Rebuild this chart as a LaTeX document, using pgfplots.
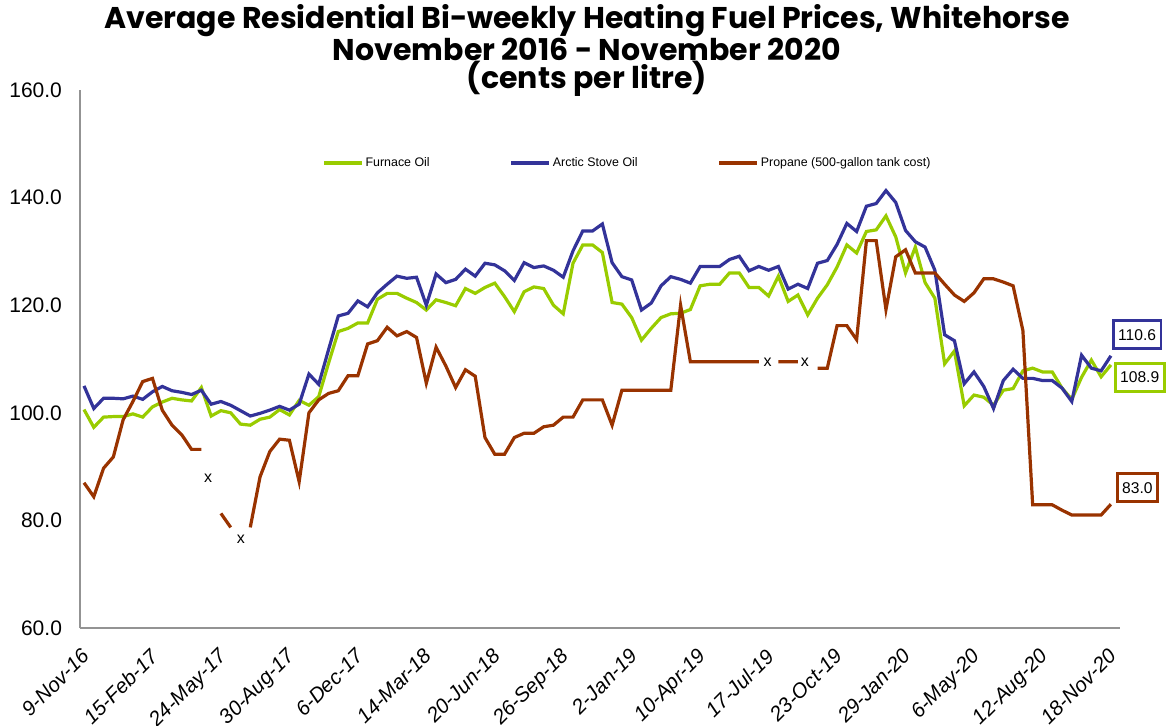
\documentclass[border=0pt]{standalone}
\usepackage{fontspec}
\setmainfont{Liberation Sans}
\newfontfamily\titlefont{Poppins}
\usepackage{pgfplots}
\pgfplotsset{compat=1.18}
\definecolor{furn}{HTML}{99CC00}
\definecolor{arctic}{HTML}{333399}
\definecolor{prop}{HTML}{993300}

\pgfplotstableread{
i furn arctic prop
0 100.6 105.0 87.0
1 97.3 100.8 84.4
2 99.2 102.7 89.7
3 99.3 102.7 91.8
4 99.3 102.6 98.7
5 99.8 103.1 102.1
6 99.2 102.5 105.8
7 101.1 103.9 106.4
8 102.0 104.9 100.5
9 102.7 104.1 97.7
10 102.4 103.8 95.9
11 102.2 103.4 93.2
12 104.7 104.2 93.2
13 99.4 101.6 nan
14 100.4 102.1 81.3
15 100.0 101.4 78.7
16 97.9 100.4 nan
17 97.7 99.4 78.7
18 98.8 99.9 88.1
19 99.2 100.5 92.8
20 100.6 101.2 95.1
21 99.6 100.5 94.9
22 102.3 101.6 87.2
23 101.4 107.2 100.0
24 103.0 105.3 102.4
25 109.2 111.7 103.6
26 115.1 118.0 104.1
27 115.7 118.5 106.9
28 116.7 120.8 106.9
29 116.7 119.7 112.8
30 121.1 122.3 113.4
31 122.2 123.9 115.9
32 122.2 125.4 114.3
33 121.3 125.0 115.1
34 120.5 125.2 114.0
35 119.1 120.0 105.5
36 121.0 125.8 112.2
37 120.5 124.2 108.7
38 119.9 124.8 104.7
39 123.1 126.7 108.0
40 122.2 125.4 106.8
41 123.3 127.8 95.4
42 124.1 127.5 92.3
43 121.6 126.4 92.3
44 118.8 124.6 95.4
45 122.5 127.9 96.2
46 123.4 127.0 96.2
47 123.1 127.3 97.4
48 120.0 126.5 97.7
49 118.4 125.2 99.2
50 127.8 130.1 99.2
51 131.2 133.8 102.4
52 131.2 133.8 102.4
53 129.8 135.1 102.4
54 120.5 127.9 97.7
55 120.2 125.3 104.2
56 117.7 124.7 104.2
57 113.5 119.1 104.2
58 115.7 120.4 104.2
59 117.7 123.6 104.2
60 118.4 125.3 104.2
61 118.5 124.8 120.0
62 119.2 124.1 109.5
63 123.6 127.2 109.5
64 123.9 127.2 109.5
65 123.9 127.2 109.5
66 126.0 128.5 109.5
67 126.0 129.1 109.5
68 123.3 126.4 109.5
69 123.3 127.2 109.5
70 121.7 126.5 nan
71 125.4 127.2 109.5
72 120.7 123.0 109.5
73 121.9 123.9 109.5
74 118.2 123.1 nan
75 121.3 127.8 108.3
76 123.8 128.3 108.3
77 127.1 131.3 116.2
78 131.2 135.2 116.2
79 129.7 133.7 113.6
80 133.7 138.4 132.0
81 134.0 138.9 132.0
82 136.6 141.3 119.2
83 132.7 139.1 129.0
84 126.0 133.9 130.3
85 130.8 131.8 126.0
86 124.2 130.8 126.0
87 121.3 126.5 126.0
88 109.1 114.5 123.9
89 111.5 113.4 121.9
90 101.3 105.4 120.7
91 103.3 107.6 122.3
92 102.9 104.9 124.9
93 101.4 100.8 124.9
94 104.2 106.0 124.3
95 104.5 108.1 123.6
96 107.8 106.4 115.3
97 108.3 106.4 82.9
98 107.6 106.0 82.9
99 107.6 106.0 82.9
100 104.6 104.6 81.9
101 102.5 102.1 81.0
102 106.6 110.7 81.0
103 109.8 108.3 81.0
104 106.7 107.8 81.0
105 108.9 110.6 83.0
}\datatable

\begin{document}
\begin{tikzpicture}
\begin{axis}[
  scale only axis, width=520pt, height=269pt,
  xmin=-0.41, xmax=105.93, ymin=60, ymax=160,
  axis x line*=bottom, axis y line*=left,
  axis line style={draw=gray!85, line width=0.7pt, -},
  xtick={0,7,...,105},
  xticklabels={9-Nov-16,15-Feb-17,24-May-17,30-Aug-17,6-Dec-17,14-Mar-18,20-Jun-18,26-Sep-18,2-Jan-19,10-Apr-19,17-Jul-19,23-Oct-19,29-Jan-20,6-May-20,12-Aug-20,18-Nov-20},
  ytick={60,80,...,160},
  major tick length=0pt,
  /pgf/number format/assume math mode=true,
  yticklabel style={/pgf/number format/fixed, /pgf/number format/fixed zerofill, /pgf/number format/precision=1, font=\fontsize{10.5}{12}\selectfont, xshift=-5.5pt},
  x tick label style={font=\itshape\fontsize{10.3}{12}\selectfont, inner sep=0pt, xshift=-1.8pt, yshift=-9.5pt, rotate=45, anchor=north east},
  clip=false,
  unbounded coords=jump,
  title={Average Residential Bi-weekly Heating Fuel Prices, Whitehorse\\November 2016 - November 2020\\(cents per litre)},
  title style={at={(0.4875,1.1506)}, anchor=north, align=center, font=\titlefont\bfseries\fontsize{15}{14}\selectfont},
  legend columns=3,
  legend style={at={(0.5264,0.8643)}, anchor=center, draw=none, fill=none, font=\fontsize{6.2}{8}\selectfont,
    /tikz/every even column/.append style={column sep=39pt},
    nodes={inner xsep=1pt}},
  legend image code/.code={\draw[#1] (0pt,0pt) -- (19pt,0pt);},
]
\addplot[furn, line width=1.6pt] table[x=i, y=furn] {\datatable};
\addlegendentry{Furnace Oil}
\addplot[arctic, line width=1.6pt] table[x=i, y=arctic] {\datatable};
\addlegendentry{Arctic Stove Oil}
\addplot[prop, line width=1.6pt] table[x=i, y=prop] {\datatable};
\addlegendentry{Propane (500-gallon tank cost)}

\addplot[draw=none, forget plot, nodes near coords={x},
  nodes near coords style={anchor=center, text=black, font=\fontsize{8}{9}\selectfont}]
  coordinates {(12.7,87.9) (16.05,76.5) (69.9,109.3) (73.7,109.3)};

\addplot[draw=none, forget plot, nodes near coords, point meta=explicit symbolic,
  nodes near coords style={anchor=west, draw=arctic, line width=1.3pt, fill=white, text=black,
    font=\fontsize{7.8}{9}\selectfont, inner xsep=2.5pt, minimum height=14pt, xshift=0.5pt, yshift=10.5pt}]
  coordinates {(105,110.6) [110.6]};
\addplot[draw=none, forget plot, nodes near coords, point meta=explicit symbolic,
  nodes near coords style={anchor=west, draw=furn, line width=1.3pt, fill=white, text=black,
    font=\fontsize{7.8}{9}\selectfont, inner xsep=2.5pt, minimum height=14pt, xshift=1.5pt, yshift=-6.25pt}]
  coordinates {(105,108.9) [108.9]};
\addplot[draw=none, forget plot, nodes near coords, point meta=explicit symbolic,
  nodes near coords style={anchor=west, draw=prop, line width=1.3pt, fill=white, text=black,
    font=\fontsize{7.8}{9}\selectfont, inner xsep=2.5pt, minimum height=14pt, xshift=2.5pt, yshift=8.25pt}]
  coordinates {(105,83.0) [83.0]};
\end{axis}
\pgfresetboundingbox
\path[use as bounding box] (-40pt,-48.5pt) rectangle (546.5pt,314pt);
\end{tikzpicture}
\end{document}
